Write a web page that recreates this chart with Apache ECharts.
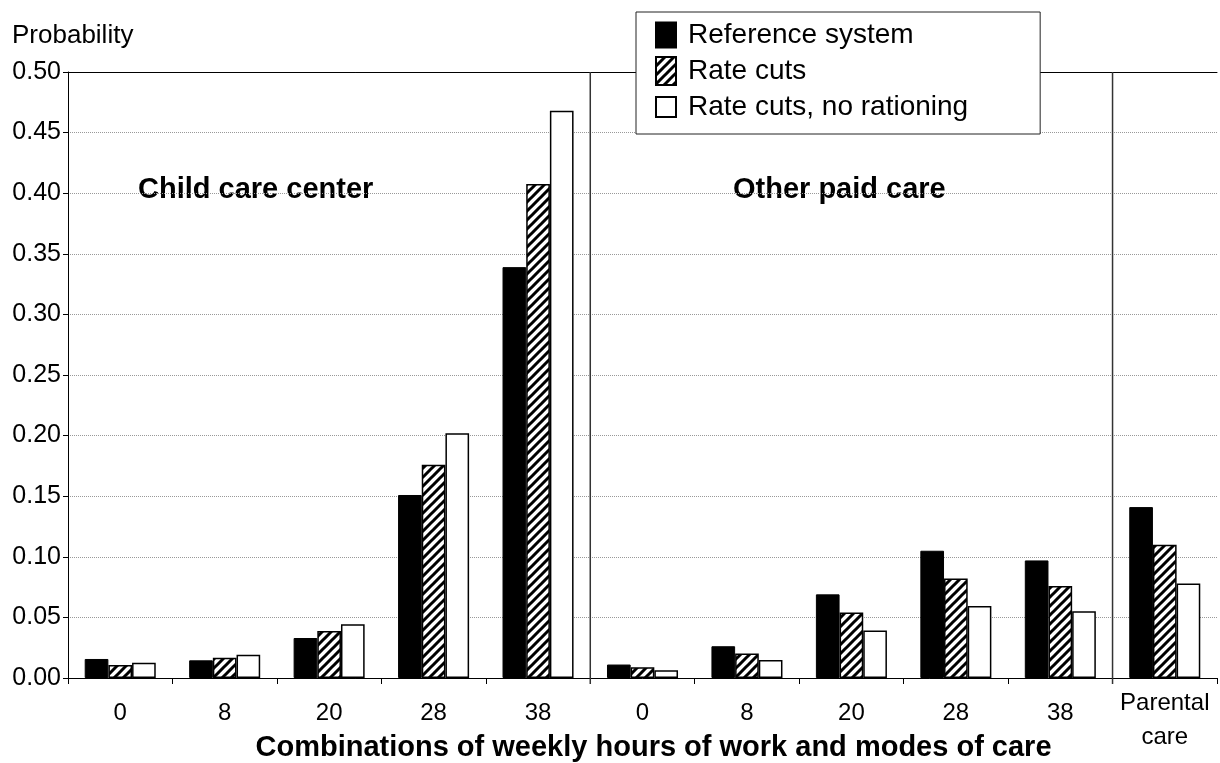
<!DOCTYPE html>
<html>
<head>
<meta charset="utf-8">
<script src="https://cdn.jsdelivr.net/npm/echarts@6/dist/echarts.min.js"></script>
<style>
  html, body { margin: 0; padding: 0; background: #fff; }
  #chart { width: 1220px; height: 763px; }
</style>
</head>
<body>
<div id="chart"></div>
<script>
// categories: hours of work, grouped by mode of care
const categories = ['0', '8', '20', '28', '38', '0', '8', '20', '28', '38', 'Parental\ncare'];
const seriesNames = ['Reference system', 'Rate cuts', 'Rate cuts, no rationing'];

const referenceSystem = [0.0157, 0.0146, 0.033, 0.151, 0.339, 0.0111, 0.0262, 0.069, 0.105, 0.097, 0.141];
const rateCuts        = [0.0107, 0.0168, 0.0388, 0.176, 0.4076, 0.0088, 0.0202, 0.054, 0.082, 0.076, 0.110];
const noRationing     = [0.0126, 0.0192, 0.0443, 0.202, 0.468, 0.0064, 0.0149, 0.0391, 0.0594, 0.055, 0.078];

// vertical separators are drawn after these category indexes
const separatorAfter = [4, 9];
const yTicks = { min: 0, max: 0.5, interval: 0.05 };

const FONT = 'Liberation Sans, Arial, sans-serif';

// hatch pattern for "Rate cuts"
const makeHatch = () => {
  const c = document.createElement('canvas');
  const s = 9;
  c.width = s; c.height = s;
  const ctx = c.getContext('2d');
  ctx.fillStyle = '#fff';
  ctx.fillRect(0, 0, s, s);
  ctx.strokeStyle = '#000';
  ctx.lineWidth = 3;
  ctx.beginPath();
  ctx.moveTo(-2, s + 2); ctx.lineTo(s + 2, -2);
  ctx.moveTo(-2, 2); ctx.lineTo(2, -2);
  ctx.moveTo(s - 2, s + 2); ctx.lineTo(s + 2, s - 2);
  ctx.stroke();
  return c;
};
const hatch = { image: makeHatch(), repeat: 'repeat' };

const chart = echarts.init(document.getElementById('chart'));

const barBase = {
  type: 'bar',
  barCategoryGap: '32%',
  barGap: '0%',
  xAxisIndex: 0
};

chart.setOption({
  animation: false,
  textStyle: { fontFamily: FONT, color: '#000' },
  grid: { left: 68, right: 3, top: 72, bottom: 85, outerBoundsMode: 'none', containLabel: false },
  legend: {
    orient: 'vertical',
    left: 636,
    top: 12,
    padding: [9, 72, 13, 19],
    itemGap: 7,
    itemWidth: 20,
    itemHeight: 28,
    backgroundColor: '#fff',
    borderColor: '#222',
    borderWidth: 1,
    borderRadius: 0,
    textStyle: { fontSize: 28, color: '#000', fontFamily: FONT, lineHeight: 28, padding: [0, 0, 0, 7] },
    data: [
      { name: seriesNames[0], icon: 'path://M0 0h20v25h-20z' },
      { name: seriesNames[1], icon: 'path://M0 0h20v28h-20z' },
      { name: seriesNames[2], icon: 'path://M0 0h17v17h-17z' }
    ]
  },
  xAxis: [
    {
      type: 'category',
      data: categories,
      position: 'bottom',
      axisLine: { lineStyle: { color: '#000', width: 1 } },
      axisTick: { show: true, length: 6, interval: 0, lineStyle: { color: '#000' } },
      axisLabel: {
        interval: 0,
        margin: 8,
        color: '#000',
        fontSize: 24,
        formatter: v => v.includes('\n')
          ? v.split('\n').map(s => '{p|' + s + '}').join('\n')
          : '{n|' + v + '}',
        rich: {
          n: { fontSize: 24, lineHeight: 54, color: '#000', fontFamily: FONT },
          p: { fontSize: 24, lineHeight: 34, color: '#000', fontFamily: FONT }
        }
      },
      name: 'Combinations of weekly hours of work and modes of care',
      nameLocation: 'middle',
      nameGap: 55,
      nameMoveOverlap: false,
      nameTextStyle: {
        fontSize: 29, fontWeight: 'bold', color: '#000', fontFamily: FONT,
        verticalAlign: 'top', padding: [0, 0, 0, 22]
      }
    },
    {
      // top border of the plot
      type: 'category',
      data: categories,
      position: 'top',
      axisLine: { show: true, lineStyle: { color: '#000', width: 1 } },
      axisTick: { show: false },
      axisLabel: { show: false }
    }
  ],
  yAxis: {
    type: 'value',
    min: yTicks.min,
    max: yTicks.max,
    interval: yTicks.interval,
    name: 'Probability',
    nameLocation: 'end',
    nameGap: 36,
    nameTextStyle: {
      fontSize: 26, color: '#000', fontFamily: FONT,
      align: 'left', verticalAlign: 'middle', padding: [0, 0, 0, -56]
    },
    axisLine: { show: true, lineStyle: { color: '#000', width: 1 } },
    axisTick: { show: true, length: 5, lineStyle: { color: '#000' } },
    axisLabel: { margin: 7, fontSize: 25, color: '#000', formatter: v => v.toFixed(2) },
    splitLine: { show: true, lineStyle: { color: '#999', type: 'dotted', width: 1 } }
  },
  graphic: [
    {
      type: 'text', left: 138, top: 175,
      style: { text: 'Child care center', font: 'bold 29px ' + FONT, fill: '#000' }
    },
    {
      type: 'text', left: 733, top: 175,
      style: { text: 'Other paid care', font: 'bold 29px ' + FONT, fill: '#000' }
    }
  ],
  series: [
    {
      ...barBase,
      name: seriesNames[0],
      data: referenceSystem,
      itemStyle: { color: '#000', borderColor: '#000', borderWidth: 1 }
    },
    {
      ...barBase,
      name: seriesNames[1],
      data: rateCuts,
      itemStyle: { color: hatch, borderColor: '#000', borderWidth: 1.5 }
    },
    {
      ...barBase,
      name: seriesNames[2],
      data: noRationing,
      itemStyle: { color: '#fff', borderColor: '#000', borderWidth: 1.5 }
    },
    {
      name: 'separators',
      type: 'custom',
      silent: true,
      z: 5,
      data: separatorAfter.map(i => [i]),
      encode: { x: 0 },
      renderItem: (params, api) => {
        const top = api.coord([api.value(0), yTicks.max]);
        const base = api.coord([api.value(0), 0]);
        const x = top[0] + api.size([1, 0])[0] / 2;
        return {
          type: 'line',
          shape: { x1: x, y1: top[1], x2: x, y2: base[1] + 6 },
          style: { stroke: '#333', lineWidth: 1.5 }
        };
      }
    }
  ]
});
</script>
</body>
</html>
